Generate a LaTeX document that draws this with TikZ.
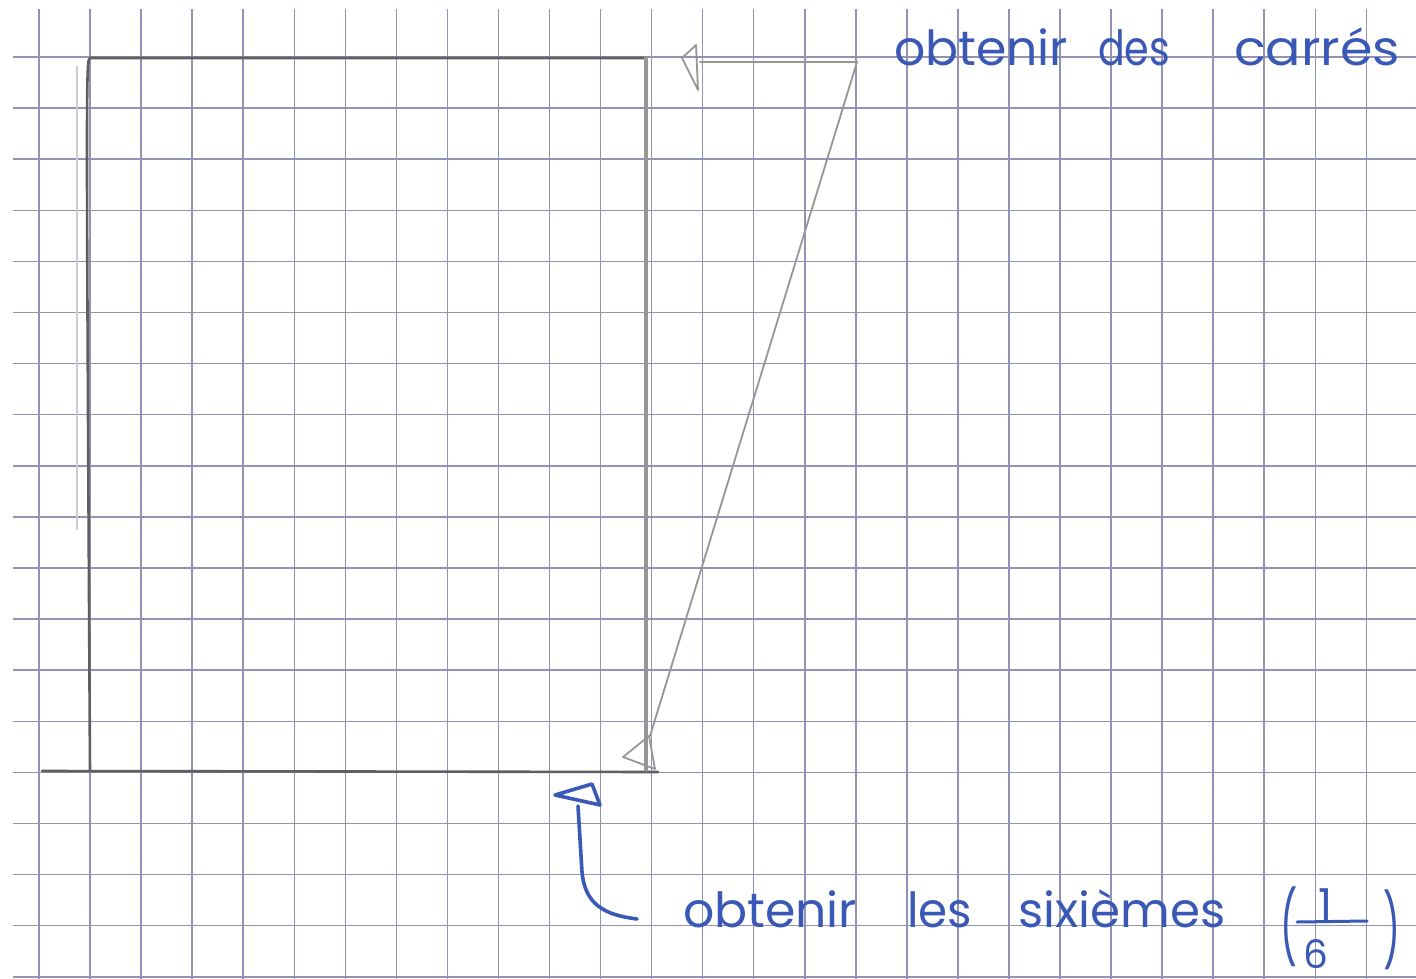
\documentclass[tikz,border=0pt]{standalone}
\usepackage{fontspec}
\setmainfont{Poppins}
\usepackage{graphicx}
\definecolor{gridc}{RGB}{146,146,180}
\definecolor{ink}{RGB}{58,88,182}
\definecolor{pencil}{RGB}{95,95,95}
\definecolor{pencillight}{RGB}{150,150,150}
\definecolor{pencilfaint}{RGB}{205,205,205}
\tikzset{
  gridline/.style={draw=gridc, line width=1.5pt},
  pen/.style={draw=pencil, line width=2.6pt, line cap=round, line join=round},
  penlight/.style={draw=pencillight, line width=3.4pt, line cap=round},
  penthin/.style={draw=pencillight, line width=1.8pt, line cap=round, line join=round},
  inkline/.style={draw=ink, line width=3.6pt, line cap=round, line join=round},
  word/.style={inner sep=0pt, text=ink, font=\fontsize{44}{50}\selectfont, anchor=base west},
  paren/.style={inner sep=0pt, text=ink, font=\fontsize{44}{50}\selectfont, anchor=center}
}
\begin{document}
\begin{tikzpicture}[x=1pt,y=-1pt]
\useasboundingbox (0,0) rectangle (1416,979);
\fill[white] (0,0) rectangle (1416,979);
% graph paper
\foreach \k in {0,...,26} \draw[gridline] (39+51.05*\k,9) -- (39+51.05*\k,979);
\foreach \j in {0,...,18} \draw[gridline] (13,57+51.1*\j) -- (1416,57+51.1*\j);

% pencil construction
\coordinate (TL) at (90,58);
\coordinate (TR) at (646,58);
\coordinate (BL) at (90,771);
\coordinate (BR) at (658,772);
\coordinate (BX) at (42,771);
\coordinate (RB) at (646,770);
\coordinate (P) at (857,62);
\coordinate (Q) at (650,736);
\coordinate (F1) at (77,66);
\coordinate (F2) at (77,530);
\draw[draw=pencilfaint, line width=2pt] (F1) -- (F2);
\draw[pen] (TR) -- (TL) .. controls (86,60) and (86,66) .. (BL);
\draw[pen] (BX) -- (BR);
\draw[penlight] (TR) -- (RB);
% top fold arrow
\coordinate (a1) at (682,58);
\coordinate (a2) at (696,45);
\coordinate (a3) at (698,90);
\coordinate (a4) at (700,62);
\draw[penthin] (a1) -- (a2) -- (a3) -- cycle;
\draw[penthin] (P) -- (a4);
% diagonal fold arrow
\coordinate (b1) at (623,757);
\coordinate (b2) at (649,736);
\coordinate (b3) at (655,769);
\draw[penthin] (P) -- (Q);
\draw[penthin] (b1) -- (b2) -- (b3) -- cycle;

% blue arrow
\coordinate (c1) at (555,795);
\coordinate (c2) at (592,784);
\coordinate (c3) at (600,805);
\coordinate (s0) at (578,806);
\coordinate (s1) at (582,872);
\coordinate (s2) at (637,919);
\draw[inkline] (c1) -- (c2) -- (c3) -- cycle;
\draw[inkline] (s0) -- (s1) .. controls (585,905) and (605,915) .. (s2);

% blue texts
\node[word] (t1) at (894,66) {\resizebox{174pt}{1.1\height}{obtenir}};
\node[word] (t2) at (1098,66) {\resizebox{72pt}{1.1\height}{des}};
\node[word] (t3) at (1234,66) {\resizebox{166pt}{1.1\height}{carrés}};

\node[word] (u1) at (683,927) {\resizebox{174pt}{1.1\height}{obtenir}};
\node[word] (u2) at (907,927) {\resizebox{65pt}{1.1\height}{les}};
\node[word] (u3) at (1018,927) {\resizebox{207pt}{1.1\height}{sixièmes}};
\node[paren] (lp) at (1289,927) {\resizebox*{17pt}{80pt}{(}};
\node[word] (n1) at (1318,920) {1};
\node[word] (n6) at (1303,968) {\resizebox*{!}{29pt}{6}};
\coordinate (bar1) at (1297,922);
\coordinate (bar2) at (1367,921);
\draw[inkline, line width=3pt] (bar1) -- (bar2);
\node[paren] (rp) at (1392,930) {\resizebox*{17pt}{80pt}{)}};
\end{tikzpicture}
\end{document}
